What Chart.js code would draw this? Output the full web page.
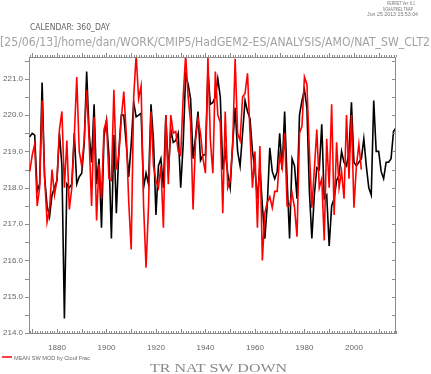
<!DOCTYPE html>
<html>
<head>
<meta charset="utf-8">
<script src="https://cdn.jsdelivr.net/npm/chart.js@4.4.1/dist/chart.umd.min.js"></script>
<style>
  body { margin: 0; background: #fff; }
  canvas { display: block; }
</style>
</head>
<body>
<canvas id="myChart" width="431" height="374"></canvas>
<script>
// yearly values, black run 1869-2017, red run 1869-2003
const firstYear = 1869;

const blackVals = [
  219.4, 219.5,
  219.45, 217.9, 218.1, 220.9, 218.3, 217.5, 217.2, 217.8, 218.0, 218.2,
  219.5, 218.6, 214.4, 218.1, 218.0, 218.1, 219.5, 218.1, 218.3, 218.4,
  219.2, 221.2, 219.5, 218.7, 220.3, 218.1, 218.8, 216.9, 219.4, 219.85,
  218.9, 216.6, 219.45, 217.3, 219.0, 220.0, 220.0, 219.2, 218.3, 219.2,
  220.35, 219.95, 220.0, 220.05, 218.0, 218.4, 218.1, 220.3, 219.3, 217.25,
  218.6, 218.8, 218.0, 220.0, 218.4, 219.6, 219.25, 219.3, 219.5, 218.0,
  219.2, 221.1, 220.85, 220.45, 218.8, 219.4, 220.1, 218.75, 218.9, 218.9,
  221.2, 220.3, 220.35, 220.5, 221.0, 220.5, 218.5, 219.0, 218.4, 218.0,
  219.2, 220.2, 219.0, 218.6, 219.5, 220.4, 220.1, 219.9, 219.0, 218.5,
  217.7, 218.6, 217.5, 216.6, 217.55, 219.1, 218.45, 218.25, 218.45, 219.5,
  218.5, 220.1, 218.2, 216.6, 218.8, 218.6, 217.7, 220.0, 220.4, 220.7,
  220.2, 217.9, 216.6, 217.8, 218.55, 218.5, 219.75, 217.7, 217.8, 216.4,
  217.5, 217.7, 218.2, 218.35, 219.0, 218.7, 218.6, 219.0, 220.35, 218.7,
  218.6, 218.7, 218.8, 219.35, 218.6, 218.0, 217.8, 220.4, 219.0, 219.0,
  218.45, 218.25, 218.7, 218.7, 218.8, 219.55, 219.65
];

const redVals = [
  218.45, 218.9,
  219.2, 217.5, 218.0, 220.4, 218.3, 217.05, 217.4, 218.5, 217.8, 218.2,
  219.6, 220.1, 218.0, 219.3, 217.4, 218.0, 219.4, 221.05, 219.0, 218.6,
  219.3, 220.7, 219.3, 217.5, 219.95, 217.1, 218.65, 217.7, 219.6, 219.85,
  218.25, 218.2, 220.7, 218.5, 218.9, 219.9, 220.65, 219.5, 217.6, 216.3,
  220.5, 221.65, 220.45, 220.8, 217.5, 215.8, 217.5, 220.1, 218.6, 218.2,
  218.0, 218.6, 216.9, 220.0, 218.1, 220.0, 219.5, 219.55, 219.0, 218.9,
  220.5, 221.65, 220.5, 219.8, 217.4, 219.3, 219.9, 219.5, 218.8, 218.4,
  221.6, 219.3, 218.4, 221.2, 220.0, 219.8, 217.3, 220.1, 218.0, 218.2,
  219.2, 221.55, 219.5, 219.3, 220.5, 220.6, 221.15, 219.5, 218.0, 219.0,
  216.9, 219.15, 216.0, 217.3, 217.6, 217.75, 217.45, 217.9, 217.9, 218.9,
  218.55, 219.5, 217.5, 217.5, 217.85, 217.45, 216.65, 219.5, 219.7, 221.05,
  220.85, 219.0, 217.45, 218.5, 219.6, 218.0, 218.25, 216.55, 219.35, 218.0,
  220.3, 217.25, 219.25, 218.0, 218.45, 217.7, 220.0, 218.25, 220.0, 217.45,
  218.6, 219.2, 218.5
];

const xTickLabels = [1880, 1900, 1920, 1940, 1960, 1980, 2000];
const yTickLabels = [214, 215, 216, 217, 218, 219, 220, 221];

const redLabel = 'MEAN SW MOD by Clouf Frac';
const xTitle = 'TR NAT SW DOWN';
const pathText = '[25/06/13]/home/dan/WORK/CMIP5/HadGEM2-ES/ANALYSIS/AMO/NAT_SW_CLT2';
const calText = 'CALENDAR: 360_DAY';
const ferretText = ['FERRET Ver. 6.1', 'NOAA/PMEL TMAP', 'Jun 25 2013 15:53:04'];

function pts(vals) {
  return vals.map((v, i) => ({ x: firstYear + i, y: v }));
}

// squeeze a string into a given width
function fitText(c, txt, x, y, w) {
  var m = c.measureText(txt).width;
  c.save();
  c.translate(x, y);
  c.scale(w / m, 1);
  c.textAlign = 'left';
  c.fillText(txt, 0, 0);
  c.restore();
}

const ferretFrame = {
  id: 'ferretFrame',
  afterDraw(chart) {
    const c = chart.ctx;
    const a = chart.chartArea;
    const xs = chart.scales.x;
    const ys = chart.scales.y;
    c.save();
    c.strokeStyle = '#8c8c8c';
    c.lineWidth = 1;
    c.beginPath();
    c.moveTo(a.left, a.top + 0.5); c.lineTo(a.right, a.top + 0.5);
    c.moveTo(a.right - 0.5, a.top); c.lineTo(a.right - 0.5, a.bottom);
    // yearly ticks top and bottom
    for (let yr = 1869; yr <= 2017; yr++) {
      const px = Math.round(xs.getPixelForValue(yr)) + 0.5;
      const len = yr % 10 === 0 ? 4 : 2;
      c.moveTo(px, a.top); c.lineTo(px, a.top - len);
      c.moveTo(px, a.bottom); c.lineTo(px, a.bottom - len);
    }
    // half unit ticks left and right
    for (let v = 214; v <= 221.5; v += 0.5) {
      const py = Math.round(ys.getPixelForValue(v)) + 0.5;
      c.moveTo(a.left - 4, py); c.lineTo(a.left, py);
      c.moveTo(a.right, py); c.lineTo(a.right - 4, py);
    }
    c.stroke();

    c.fillStyle = '#777';
    c.textBaseline = 'middle';
    c.font = '5px "Liberation Sans"';
    fitText(c, ferretText[0], 387, 4, 28);
    fitText(c, ferretText[1], 383, 9.5, 30);
    fitText(c, ferretText[2], 367, 15, 51);

    c.fillStyle = '#666';
    c.font = '8px "DejaVu Sans"';
    fitText(c, calText, 30, 28, 80);

    c.fillStyle = '#a2a2a2';
    c.font = '13px "DejaVu Sans"';
    fitText(c, pathText, 0, 43, 430);

    // legend entry
    c.strokeStyle = '#ff0000';
    c.lineWidth = 1.5;
    c.beginPath();
    c.moveTo(2, 357); c.lineTo(12, 357);
    c.stroke();
    c.fillStyle = '#666';
    c.font = '6px "Liberation Sans"';
    fitText(c, redLabel, 14, 358, 76);

    c.fillStyle = '#888';
    c.font = '12px "Liberation Serif"';
    fitText(c, xTitle, 150, 369, 137);
    c.restore();
  }
};

var ctx = document.getElementById('myChart').getContext('2d');

var myChart = new Chart(ctx, {
  type: 'line',
  data: {
    datasets: [{
      label: redLabel,
      data: pts(redVals),
      borderColor: '#ff0000',
      borderWidth: 1.6,
      pointRadius: 0,
      tension: 0,
      order: 0
    }, {
      label: 'black',
      data: pts(blackVals),
      borderColor: '#000000',
      borderWidth: 1.6,
      pointRadius: 0,
      tension: 0,
      order: 1
    }]
  },
  options: {
    responsive: false,
    animation: false,
    layout: { padding: { top: 57, right: 35, left: 0, bottom: 0 } },
    plugins: { legend: { display: false }, tooltip: { enabled: false } },
    scales: {
      x: {
        type: 'linear',
        min: 1868.7,
        max: 2017,
        afterBuildTicks: s => { s.ticks = xTickLabels.map(v => ({ value: v })); },
        afterFit: s => { s.height = 41; },
        ticks: {
          autoSkip: false,
          maxRotation: 0,
          padding: 10,
          color: '#666',
          font: { family: 'Liberation Sans', size: 8 },
          callback: v => String(v)
        },
        grid: { drawOnChartArea: false, drawTicks: false },
        border: { color: '#8c8c8c', width: 1 }
      },
      y: {
        min: 214,
        max: 221.6,
        afterBuildTicks: s => { s.ticks = yTickLabels.map(v => ({ value: v })); },
        afterFit: s => { s.width = 29; },
        ticks: {
          padding: 6,
          color: '#666',
          font: { family: 'Liberation Sans', size: 8 },
          callback: v => v.toFixed(1)
        },
        grid: { drawOnChartArea: false, drawTicks: false },
        border: { color: '#8c8c8c', width: 1 }
      }
    }
  },
  plugins: [ferretFrame]
});
</script>
</body>
</html>
